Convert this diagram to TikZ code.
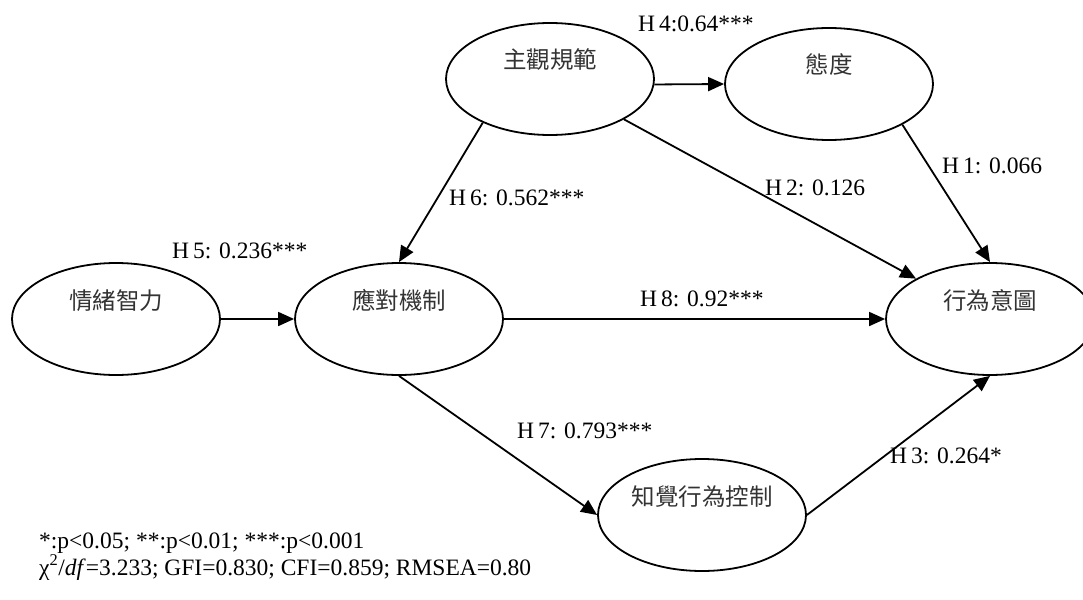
\documentclass[tikz,border=0pt]{standalone}
\usepackage{fontspec}
\setmainfont{Liberation Serif}
\newfontfamily\cjk{Noto Sans CJK TC}
\usetikzlibrary{shapes.geometric,arrows.meta}
\pgfdeclarelayer{bg}
\pgfsetlayers{bg,main}
\tikzset{
    latent/.style={ellipse, draw, line width=1.8pt, minimum width=208pt, minimum height=112pt,
        inner sep=2pt, text height=22pt, text depth=42pt, text=black!80,
        font=\cjk\fontsize{23.5}{28}\selectfont}
}
\tikzset{coef/.style={anchor=base west, inner sep=0pt, font=\fontsize{23.5}{28}\selectfont}}
\tikzset{effect/.style={line width=1.8pt, -{Triangle[length=16pt, width=14pt]}}}

\begin{document}
\begin{tikzpicture}[x=1pt, y=-1pt]
    \useasboundingbox (0,0) rectangle (1083,599);

    \node (zg) [latent] at (550, 79) {主觀規範};
    \node (td) [latent] at (829, 84) {態度};
    \node (qx) [latent] at (116, 319) {情緒智力};
    \node (ydj) [latent] at (399, 319) {應對機制};
    \node (xy) [latent] at (990, 319) {行為意圖};
    \node (zj) [latent] at (702, 515) {知覺行為控制};

    % path coefficients
    \node (h4) [coef] at (638, 32) {H\,4:0.64***};
    \node (h1) [coef] at (942, 173) {H\,1: 0.066};
    \node (h2) [coef] at (765, 195) {H\,2: 0.126};
    \node (h6) [coef] at (449, 205) {H\,6: 0.562***};
    \node (h5) [coef] at (172, 258) {H\,5: 0.236***};
    \node (h8) [coef] at (640, 306) {H\,8: 0.92***};
    \node (h7) [coef] at (517, 438) {H\,7: 0.793***};
    \node (h3) [coef] at (890, 463) {H\,3: 0.264*};

    \node (sig) [coef] at (39, 548) {*:p<0.05; **:p<0.01; ***:p<0.001};
    \node (fit) [coef] at (39, 575) {χ\textsuperscript{2}/\textit{df}=3.233; GFI=0.830; CFI=0.859; RMSEA=0.80};

    \begin{pgfonlayer}{bg}
        \draw (zg.-3) edge[effect] (td.west);
        \draw (td.-29) edge[effect] (xy.north);
        \draw (zg) edge[effect] (xy);
        \draw (zg.213) edge[effect] (ydj.north);
        \draw (qx) edge[effect] (ydj);
        \draw (ydj) edge[effect] (xy);
        \draw (ydj.south) edge[effect] (zj.west);
        \draw (zj.east) edge[effect] (xy.south);
    \end{pgfonlayer}
\end{tikzpicture}
\end{document}
